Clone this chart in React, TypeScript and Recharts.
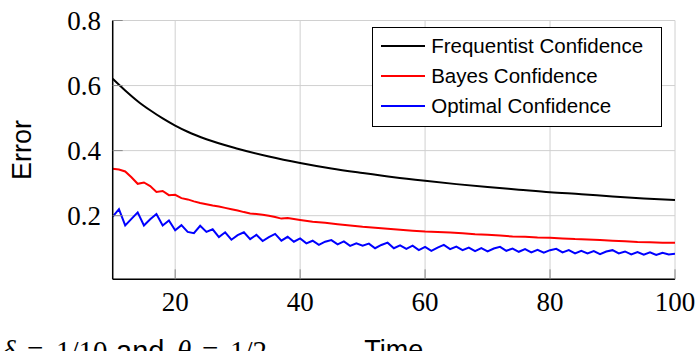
import React from 'react';
import { LineChart, Line, XAxis, YAxis, CartesianGrid, Legend, Customized } from 'recharts';

const timeTicks = [20, 40, 60, 80, 100];
const errorTicks = [0.2, 0.4, 0.6, 0.8];
const seriesNames = ['Frequentist Confidence', 'Bayes Confidence', 'Optimal Confidence'];

const freqTimes = [10, 12, 14, 16, 18, 20, 22, 25, 30, 35, 40, 45, 50, 55, 60, 65, 70, 75, 80, 85, 90, 95, 100];
const freqValues = [0.621, 0.585, 0.552, 0.524, 0.499, 0.477, 0.458, 0.435, 0.406, 0.382, 0.362, 0.345, 0.331, 0.318, 0.307, 0.297, 0.288, 0.28, 0.272, 0.266, 0.259, 0.253, 0.248];

const bayesTimes = [10, 11, 12, 13, 14, 15, 16, 17, 18, 19, 20, 21, 22, 23, 24, 25, 26, 27, 28, 29, 30, 31, 32, 33, 34, 35, 36, 37, 38, 39, 40, 42, 44, 46, 48, 50, 52, 54, 56, 58, 60, 62, 64, 66, 68, 70, 72, 74, 76, 78, 80, 82, 84, 86, 88, 90, 92, 94, 96, 98, 100];
const bayesValues = [0.344, 0.342, 0.336, 0.318, 0.298, 0.302, 0.291, 0.273, 0.276, 0.263, 0.264, 0.254, 0.25, 0.244, 0.239, 0.235, 0.231, 0.228, 0.224, 0.22, 0.216, 0.211, 0.207, 0.205, 0.203, 0.2, 0.196, 0.191, 0.193, 0.19, 0.187, 0.181, 0.178, 0.174, 0.17, 0.166, 0.163, 0.16, 0.157, 0.154, 0.151, 0.15, 0.148, 0.146, 0.143, 0.141, 0.139, 0.136, 0.135, 0.133, 0.132, 0.13, 0.128, 0.127, 0.125, 0.123, 0.121, 0.119, 0.118, 0.117, 0.117];

const optimalStart = 10;
const optimalValues = [
  0.197, 0.22, 0.17, 0.19, 0.21, 0.17, 0.189, 0.205, 0.17, 0.185,
  0.155, 0.171, 0.15, 0.146, 0.169, 0.15, 0.158, 0.134, 0.149, 0.126,
  0.14, 0.149, 0.128, 0.141, 0.122, 0.134, 0.144, 0.123, 0.135, 0.12,
  0.13, 0.115, 0.123, 0.11, 0.12, 0.125, 0.112, 0.121, 0.107, 0.115,
  0.108, 0.114, 0.1, 0.11, 0.117, 0.1, 0.109, 0.098, 0.108, 0.094,
  0.104, 0.092, 0.102, 0.11, 0.097, 0.105, 0.094, 0.102, 0.091, 0.1,
  0.09, 0.099, 0.104, 0.092, 0.099, 0.089, 0.097, 0.087, 0.095, 0.086,
  0.094, 0.098, 0.087, 0.094, 0.084, 0.092, 0.084, 0.091, 0.082, 0.09,
  0.094, 0.084, 0.09, 0.081, 0.088, 0.08, 0.087, 0.079, 0.086, 0.081,
  0.083,
];

const freqData = freqTimes.map((t, i) => ({ t, v: freqValues[i] }));
const bayesData = bayesTimes.map((t, i) => ({ t, v: bayesValues[i] }));
const optimalData = optimalValues.map((v, i) => ({ t: optimalStart + i, v }));

const SANS = '"Liberation Sans", Arial, sans-serif';
const SERIF = '"Liberation Serif", "Times New Roman", serif';

const renderLegend = (props: any) => {
  const payload = [...(props.payload || [])].sort(
    (a: any, b: any) => seriesNames.indexOf(a.value) - seriesNames.indexOf(b.value)
  );
  return (
    <div
      style={{
        boxSizing: 'border-box',
        width: 290,
        height: 100.6,
        border: '1.5px solid #000',
        background: '#fff',
        paddingTop: 3.5,
      }}
    >
      {payload.map((entry: any) => (
        <div key={entry.value} style={{ height: 30, display: 'flex', alignItems: 'center' }}>
          <div style={{ marginLeft: 7.9, width: 44, height: 2, background: entry.color }} />
          <span
            style={{
              marginLeft: 6,
              fontFamily: SANS,
              fontSize: 20.5,
              lineHeight: '30px',
              color: '#000',
              whiteSpace: 'nowrap',
            }}
          >
            {entry.value}
          </span>
        </div>
      ))}
    </div>
  );
};

const ErrorLabel = (props: any) => {
  const vb = props.viewBox || { x: 0, y: 20.5, width: 112.7, height: 258.8 };
  const cx = vb.x + 31;
  const cy = vb.y + vb.height / 2;
  return (
    <text x={cx} y={cy} transform={`rotate(-90 ${cx} ${cy})`} textAnchor="middle" fontFamily={SANS} fontSize={27} fill="#000">
      Error
    </text>
  );
};

const TimeLabel = (props: any) => {
  const vb = props.viewBox || { x: 112.7, y: 279.3, width: 562.3, height: 71.7 };
  const cx = vb.x + vb.width / 2;
  return (
    <text x={cx} y={vb.y + 80} textAnchor="middle" fontFamily={SANS} fontSize={27} fill="#000">
      Time
    </text>
  );
};

const Caption = () => (
  <text y={361} fontSize={29} fill="#000">
    <tspan x={2} fontFamily={SERIF} fontStyle="italic">δ</tspan>
    <tspan x={27} fontFamily={SERIF}>=</tspan>
    <tspan x={56} fontFamily={SERIF}>1/10</tspan>
    <tspan x={116} fontFamily={SANS}>and</tspan>
    <tspan x={177} fontFamily={SERIF} fontStyle="italic">θ</tspan>
    <tspan x={202} fontFamily={SERIF}>=</tspan>
    <tspan x={230} fontFamily={SERIF}>1/2</tspan>
  </text>
);

const tickStyle = { fontFamily: SERIF, fontSize: 27, fill: '#000' };
const axisLineStyle = { stroke: '#000', strokeWidth: 1.5 };
const tickLineStyle = { stroke: '#888', strokeWidth: 1 };

export default function App() {
  return (
    <div style={{ position: 'fixed', left: 0, top: 0, width: 697, height: 351, background: '#fff' }}>
      <LineChart width={697} height={351} margin={{ top: 20.5, right: 22, bottom: 0, left: 0 }}>
        <CartesianGrid stroke="#d0d0d0" strokeWidth={1} />
        <XAxis
          dataKey="t"
          type="number"
          domain={[10, 100]}
          ticks={timeTicks}
          allowDataOverflow
          height={71.7}
          tickSize={-10}
          tickMargin={22.2}
          tick={tickStyle}
          axisLine={axisLineStyle}
          tickLine={tickLineStyle}
          label={{ content: TimeLabel }}
        />
        <XAxis
          xAxisId="top"
          orientation="top"
          dataKey="t"
          type="number"
          domain={[10, 100]}
          ticks={[20, 40, 60, 80]}
          height={0}
          tickSize={-10}
          tick={false}
          axisLine={axisLineStyle}
          tickLine={tickLineStyle}
        />
        <YAxis
          type="number"
          domain={[0.0044, 0.8]}
          ticks={errorTicks}
          allowDataOverflow
          width={112.7}
          tickSize={-10}
          tickMargin={21.7}
          tick={tickStyle}
          tickFormatter={(v: number) => v.toFixed(1)}
          axisLine={axisLineStyle}
          tickLine={tickLineStyle}
          label={{ content: ErrorLabel }}
        />
        <YAxis
          yAxisId="right"
          orientation="right"
          type="number"
          domain={[0.0044, 0.8]}
          ticks={[0.2, 0.4, 0.6]}
          width={0}
          tickSize={-10}
          tick={false}
          axisLine={axisLineStyle}
          tickLine={tickLineStyle}
        />
        <Line data={freqData} dataKey="v" name={seriesNames[0]} type="monotone" stroke="#000000" strokeWidth={2} dot={false} isAnimationActive={false} />
        <Line data={bayesData} dataKey="v" name={seriesNames[1]} type="linear" stroke="#ff0000" strokeWidth={2} dot={false} isAnimationActive={false} />
        <Line data={optimalData} dataKey="v" name={seriesNames[2]} type="linear" stroke="#0000ff" strokeWidth={2} dot={false} isAnimationActive={false} />
        <Legend
          layout="horizontal"
          verticalAlign="middle"
          align="center"
          content={renderLegend}
          wrapperStyle={{ left: 372.3, top: 26.7, width: 290, height: 100.6 }}
        />
        <Customized component={Caption} />
      </LineChart>
    </div>
  );
}
